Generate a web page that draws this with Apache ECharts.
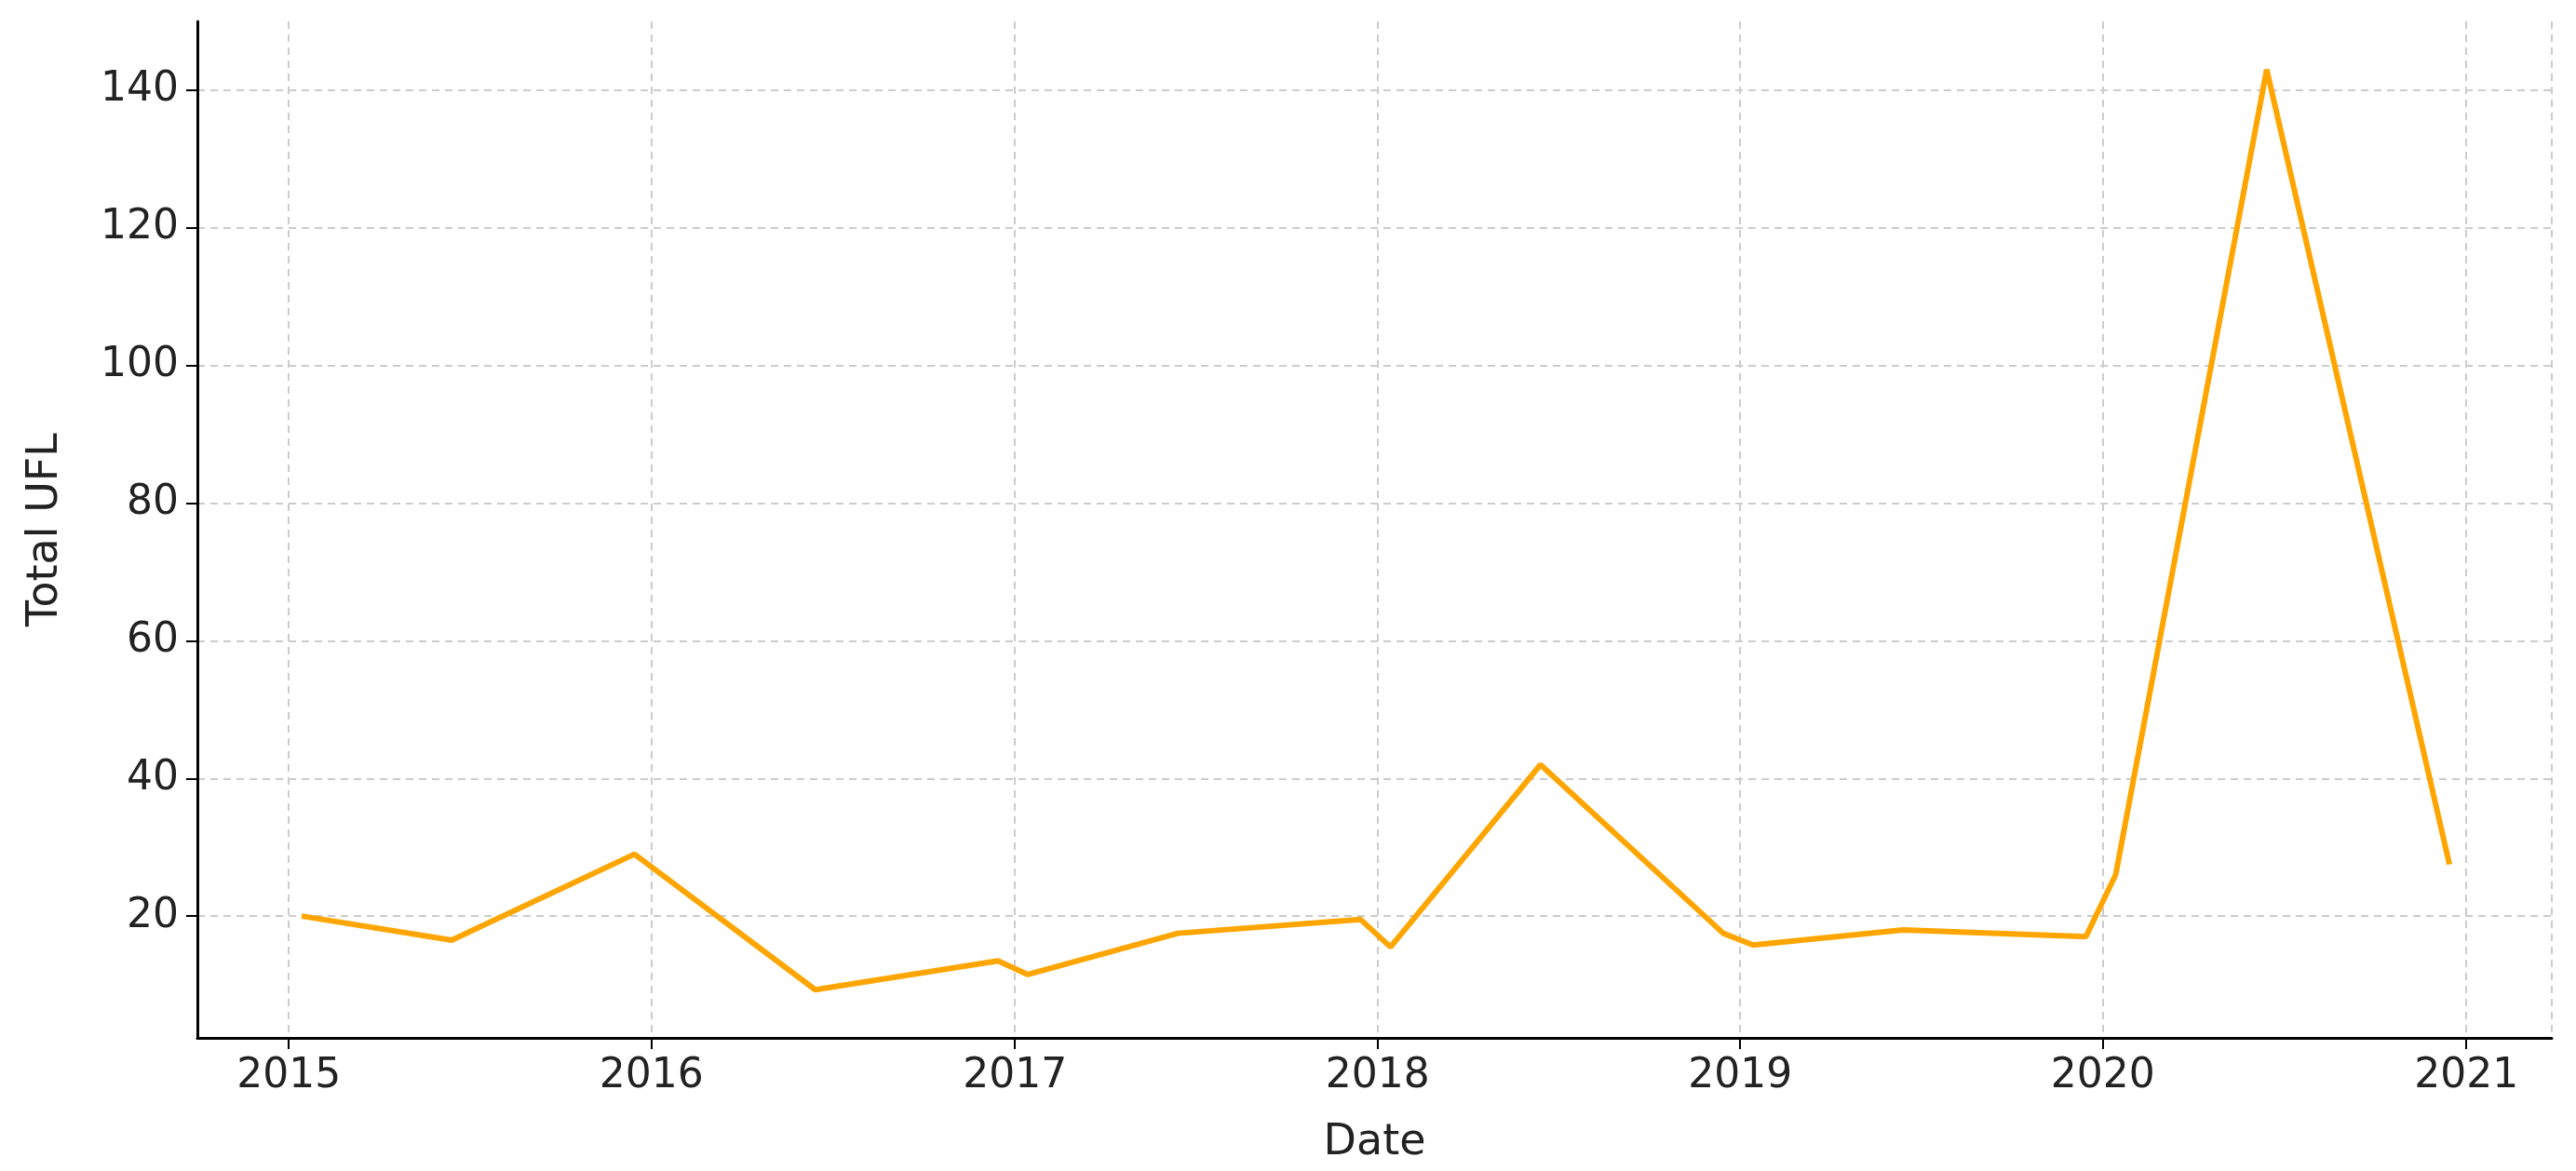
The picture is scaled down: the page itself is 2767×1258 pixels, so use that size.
<!DOCTYPE html>
<html><head><meta charset="utf-8">
<script src="https://cdn.jsdelivr.net/npm/echarts@6/dist/echarts.min.js"></script>
<style>html,body{margin:0;background:#fff}#c{width:2767px;height:1258px}</style>
</head><body><div id="c"></div>
<script>
var dates = ['2015-01-14','2015-06-14','2015-12-15','2016-06-14','2016-12-15','2017-01-14','2017-06-14','2017-12-15','2018-01-14','2018-06-14','2018-12-15','2019-01-14','2019-06-14','2019-12-15','2020-01-14','2020-06-14','2020-12-15'];
var ufl = [20, 16.5, 29, 9.3, 13.5, 11.5, 17.5, 19.5, 15.5, 42, 17.5, 15.8, 18, 17, 26, 143, 27.5];
var yTicks = [20, 40, 60, 80, 100, 120, 140];

var myChart = echarts.init(document.getElementById('c'));
var font = 'DejaVu Sans';
var option = {
    animation: false,
    grid: { left: 212, right: 26, top: 23, bottom: 143 },
    xAxis: {
        type: 'time',
        min: '2014-10-01', max: '2021-03-28',
        splitNumber: 7,
        name: 'Date', nameLocation: 'middle', nameGap: 90,
        nameTextStyle: { fontSize: 46, color: '#222', fontFamily: font },
        axisLine: { lineStyle: { color: '#000', width: 3 } },
        axisTick: { show: true, length: 12, lineStyle: { color: '#000', width: 2 } },
        axisLabel: { formatter: '{yyyy}', fontSize: 44, color: '#222', fontFamily: font, margin: 20 },
        splitLine: { show: true, lineStyle: { color: '#ccc', type: [8, 6], width: 2 } },
        minorTick: { show: false }
    },
    yAxis: {
        type: 'value',
        min: 2.3, max: 150,
        name: 'Total UFL', nameLocation: 'middle', nameGap: 140,
        nameTextStyle: { fontSize: 46, color: '#222', fontFamily: font },
        axisLine: { show: true, lineStyle: { color: '#000', width: 3 } },
        axisTick: { show: true, length: 12, customValues: yTicks, lineStyle: { color: '#000', width: 2 } },
        axisLabel: { customValues: yTicks, fontSize: 44, color: '#222', fontFamily: font, margin: 20 },
        splitLine: { show: true, lineStyle: { color: '#ccc', type: [8, 6], width: 2 } }
    },
    series: [{
        type: 'line',
        data: dates.map(function (d, i) { return [d, ufl[i]]; }),
        showSymbol: false,
        lineStyle: { color: '#ffa500', width: 6 },
        itemStyle: { color: '#ffa500' }
    }]
};
myChart.setOption(option);
</script></body></html>
